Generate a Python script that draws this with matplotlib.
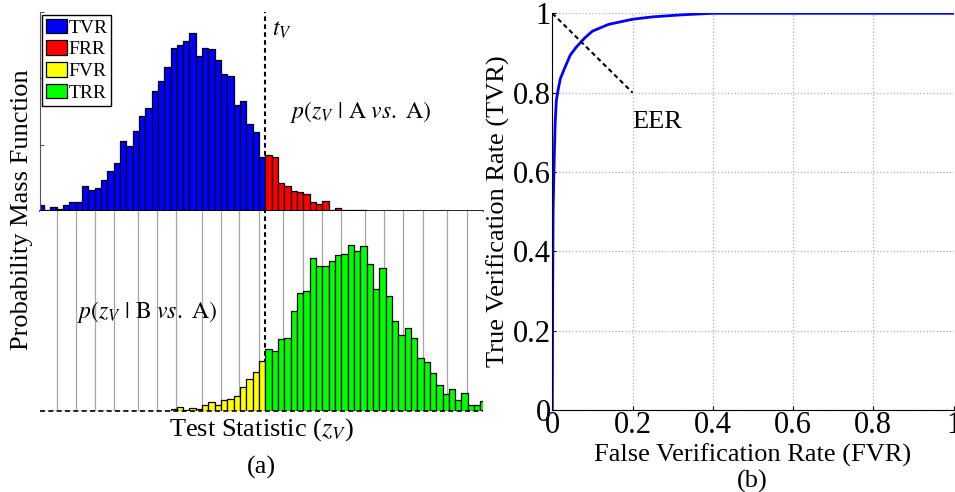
import numpy as np
import matplotlib
matplotlib.use("Agg")
import matplotlib.pyplot as plt

plt.rcParams['font.family'] = ['Liberation Serif', 'DejaVu Serif']
plt.rcParams['mathtext.fontset'] = 'stix'

# probability mass (in %) per bin, A vs. A (top) and B vs. A (bottom)
pmf_same = [0.086, 0.015, 0.050, 0.026, 0.080, 0.125, 0.136, 0.372, 0.312, 0.336,
            0.457, 0.603, 0.728, 1.055, 0.984, 1.211, 1.437, 1.557, 1.804, 1.964,
            2.175, 2.462, 2.507, 2.573, 2.694, 2.332, 2.457, 2.447, 2.272, 2.061,
            2.040, 1.593, 1.654, 1.316, 1.195, 0.814, 0.849, 0.814, 0.422, 0.377,
            0.291, 0.276, 0.252, 0.136, 0.095, 0.146, 0.015, 0.035, 0.005, 0.005,
            0.008, 0.008] + [0.0] * 19
pmf_diff = [0.0] * 21 + [
            0.020, 0.050, 0.008, 0.041, 0.020, 0.080, 0.125, 0.086, 0.161, 0.176,
            0.216, 0.351, 0.478, 0.588, 0.749, 0.930, 0.909, 1.090, 1.105, 1.503,
            1.783, 1.809, 2.302, 2.190, 2.181, 2.257, 2.356, 2.371, 2.507, 2.417,
            2.483, 2.221, 1.844, 2.160, 1.734, 1.352, 1.150, 1.256, 1.100, 0.804,
            0.743, 0.568, 0.396, 0.246, 0.327, 0.155, 0.267, 0.086, 0.086, 0.151]
thr_bin = 36          # first bin above the threshold t_V
grid_pos = [2.56, 5.61, 8.61, 11.61, 15.40, 18.40, 21.41, 25.51, 28.52, 31.36, 34.52,
            38.36, 41.42, 44.42, 47.43, 51.31, 54.31, 57.31, 60.38, 64.27, 67.33]
legend_labels = ['TVR', 'FRR', 'FVR', 'TRR']

# ROC curve
fvr = [0, 0.001, 0.002, 0.004, 0.007, 0.010, 0.015, 0.020, 0.030, 0.045, 0.060,
       0.080, 0.100, 0.140, 0.200, 0.250, 0.320, 0.400, 1.0]
tvr = [0, 0.30, 0.50, 0.60, 0.72, 0.78, 0.81, 0.835, 0.86, 0.895, 0.915,
       0.937, 0.955, 0.972, 0.985, 0.991, 0.996, 1.0, 1.0]

W, H = 955, 492
fig = plt.figure(figsize=(W / 100, H / 100), dpi=100)

def px(x0, y0, x1, y1):
    return [x0 / W, 1 - y1 / H, (x1 - x0) / W, (y1 - y0) / H]

ax_t = fig.add_axes(px(40, 12.3, 483, 210.7))
ax_b = fig.add_axes(px(40, 210.7, 483, 410.7))
ax_r = fig.add_axes(px(552.3, 13.3, 953.5, 410))

x = np.arange(len(pmf_same))
same = np.array(pmf_same)
diff = np.array(pmf_diff)
kw = dict(width=1.0, edgecolor='black', linewidth=0.9)
b1 = ax_t.bar(x[:thr_bin], same[:thr_bin], color='#0000ff', **kw)
b2 = ax_t.bar(x[thr_bin:], same[thr_bin:], color='#ff0000', **kw)
b3 = ax_b.bar(x[:thr_bin], diff[:thr_bin], color='#ffff00', zorder=3, **kw)
b4 = ax_b.bar(x[thr_bin:], diff[thr_bin:], color='#00ff00', zorder=3, **kw)

xlim = (-0.13, 69.9)
dash = (0, (2.2, 1.6))
ytop = 3.0
for ax in (ax_t, ax_b):
    ax.set_xlim(*xlim)
    ax.axvline(thr_bin - 0.5, color='black', linestyle=dash, linewidth=1.5, zorder=2)
ax_t.set_ylim(0, ytop)
ax_b.set_ylim(0, ytop * 200 / 198.4)
ax_b.axhline(0, color='black', linestyle=(0, (3, 2)), linewidth=1.2, zorder=4,
             clip_on=False)

ax_t.set_xticks([])
ax_t.set_yticks([0, 1, 2, 3])
ax_t.tick_params(axis='y', direction='in', length=3, labelleft=False, color='#555555')
for s in ('top', 'right'):
    ax_t.spines[s].set_visible(False)
ax_t.spines['left'].set_color('#555555')
ax_t.spines['bottom'].set_linewidth(1.2)

ax_b.set_xticks(grid_pos)
ax_b.set_yticks([])
ax_b.tick_params(axis='x', length=0, labelbottom=False)
ax_b.grid(axis='x', color='#a6a6a6', linewidth=0.9)
ax_b.set_axisbelow(True)
for s in ax_b.spines.values():
    s.set_visible(False)

ax_t.legend([b1, b2, b3, b4], legend_labels, loc='upper left', fontsize=14,
            frameon=True, fancybox=False, edgecolor='black', framealpha=1,
            borderpad=0.2, labelspacing=0.18, handlelength=1.05, handleheight=0.8,
            handletextpad=0.1, borderaxespad=0.12)

ax_t.text(thr_bin + 0.6, 0.965, r'$t_V$', transform=ax_t.get_xaxis_transform(),
          fontsize=17, ha='left', va='top')
fig.text(290 / W, 1 - 112 / H, r'$p(z_V\ |\ \mathrm{A}\ vs.\ \mathrm{A})$',
         fontsize=17, ha='left', va='center')
fig.text(77 / W, 1 - 312 / H, r'$p(z_V\ |\ \mathrm{B}\ vs.\ \mathrm{A})$',
         fontsize=17, ha='left', va='center')

fig.text(22 / W, 1 - 210 / H, 'Probability Mass Function', rotation=90,
         fontsize=19, ha='center', va='center')
fig.text(261 / W, 1 - 430 / H, r'Test Statistic ($z_V$)', fontsize=19,
         ha='center', va='center')
fig.text(261 / W, 1 - 467 / H, '(a)', fontsize=19, ha='center', va='center')

# ROC
ax_r.plot(fvr, tvr, color='#0000ff', linewidth=2)
ax_r.plot([0, 0.2], [1, 0.8], color='black', linestyle=dash, linewidth=1.5)
ax_r.text(0.2, 0.727, 'EER', fontsize=19, ha='left', va='center')
ax_r.set_xlim(0, 1)
ax_r.set_ylim(0, 1)
ticks = [0, 0.2, 0.4, 0.6, 0.8, 1]
ax_r.set_xticks(ticks)
ax_r.set_yticks(ticks)
ax_r.set_xticklabels(['0', '0.2', '0.4', '0.6', '0.8', '1'])
ax_r.set_yticklabels(['0', '0.2', '0.4', '0.6', '0.8', '1'])
ax_r.tick_params(direction='in', length=3, labelsize=22, pad=1)
ax_r.grid(True, color='#b0b0b0', linestyle=':', linewidth=0.9)
for s in ('top', 'right'):
    ax_r.spines[s].set_visible(False)
ax_r.set_xlabel('False Verification Rate (FVR)', fontsize=19, labelpad=2)
ax_r.set_ylabel('True Verification Rate (TVR)', fontsize=19, labelpad=2)
fig.text(752 / W, 1 - 481 / H, '(b)', fontsize=19, ha='center', va='center')

fig.savefig('out.png', dpi=100)
